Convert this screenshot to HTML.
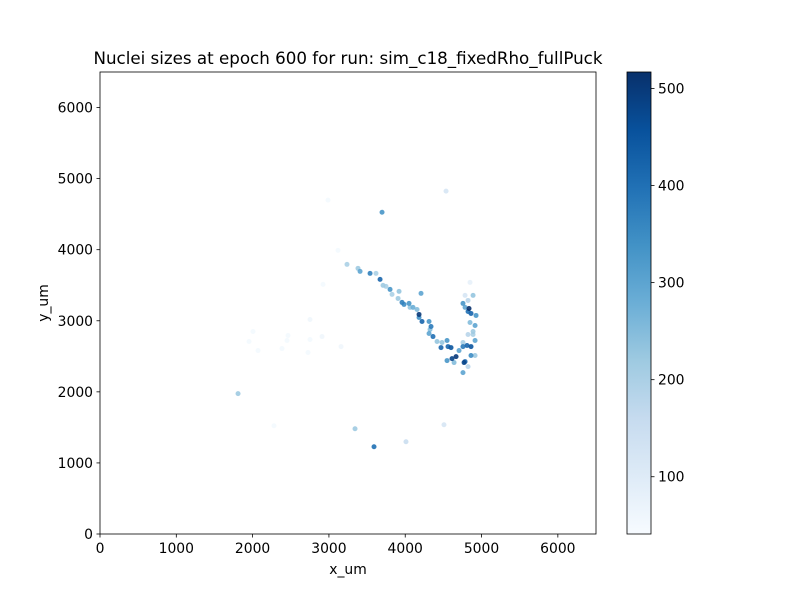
<!DOCTYPE html>
<html><head><meta charset="utf-8"><style>
body{margin:0;background:#fff;font-family:"Liberation Sans","DejaVu Sans",sans-serif}
svg text{font-family:"DejaVu Sans","Liberation Sans",sans-serif;fill:#000}
</style></head><body>
<svg id="chart" width="800" height="600" xmlns="http://www.w3.org/2000/svg">
<defs><linearGradient id="cb" x1="0" y1="1" x2="0" y2="0">
<stop offset="0" stop-color="#f7fbff"/><stop offset="0.125" stop-color="#deebf7"/><stop offset="0.25" stop-color="#c6dbef"/><stop offset="0.375" stop-color="#9ecae1"/><stop offset="0.5" stop-color="#6baed6"/><stop offset="0.625" stop-color="#4292c6"/><stop offset="0.75" stop-color="#2171b5"/><stop offset="0.875" stop-color="#08519c"/><stop offset="1" stop-color="#08306b"/>
</linearGradient></defs>
<text x="348" y="64" text-anchor="middle" font-size="16.7">Nuclei sizes at epoch 600 for run: sim_c18_fixedRho_fullPuck</text>
<g id="points"></g>
<rect x="100" y="72" width="496" height="462" fill="none" stroke="#000" stroke-width="0.8"/>
<g id="axes"></g>
<text x="348" y="574" text-anchor="middle" font-size="13.9">x_um</text>
<text x="0" y="0" transform="translate(48,303) rotate(-90)" text-anchor="middle" font-size="13.9">y_um</text>
<rect x="627" y="72" width="24" height="462" fill="url(#cb)" stroke="#000" stroke-width="0.8"/>
<g id="cbticks"></g>
</svg>
<script>
const xs=[4535,3696,2988,3119,3237,3381,3408,3539,3617,3670,3709,3748,3801,3827,3919,3906,3958,3984,4050,4063,4102,4155,4207,4181,4181,4220,4312,4338,4325,4312,4364,4417,4482,4548,4469,4561,4600,4548,4613,4666,4640,4705,4757,4810,4862,4915,4784,4771,4757,4862,4915,4823,4757,4889,4849,4915,4889,4823,4928,4862,4836,4823,4784,4757,4823,4784,4889,4849,2005,1953,2071,2385,2464,2451,2752,2752,2726,2910,3159,2923,2280,4508,4010,1809,3342,3591];
const ys=[4824,4527,4697,3991,3794,3738,3695,3667,3667,3582,3498,3484,3441,3371,3413,3314,3258,3230,3244,3188,3188,3159,3385,3089,3046,2990,2990,2920,2877,2821,2778,2708,2694,2722,2623,2637,2623,2440,2468,2496,2412,2581,2637,2652,2637,2722,2426,2412,2271,2511,2511,2355,2694,2807,2976,2934,2849,2807,3075,3103,3173,3131,3188,3244,3286,3357,3357,3540,2849,2708,2581,2609,2793,2722,3018,2736,2553,2778,2637,3512,1523,1537,1298,1975,1481,1227];
const sizes=[120,330,50,50,200,220,300,370,200,420,220,200,330,200,230,220,370,350,330,230,280,250,300,500,340,420,330,380,250,300,400,230,230,330,420,420,450,330,480,500,250,300,380,420,450,300,420,480,300,350,220,180,200,200,250,300,220,180,330,420,520,400,300,330,180,120,230,80,50,50,50,50,50,50,60,50,50,60,60,50,50,120,150,220,220,400];
const xTicks=[0,1000,2000,3000,4000,5000,6000];
const yTicks=[0,1000,2000,3000,4000,5000,6000];
const cTicks=[100,200,300,400,500];
const X=v=>100+v*496/6500, Y=v=>534-v*462/6500;
const CMIN=41,CMAX=517, C=v=>534-(v-CMIN)*462/(CMAX-CMIN);
const stops=[[247,251,255],[222,235,247],[198,219,239],[158,202,225],[107,174,214],[66,146,198],[33,113,181],[8,81,156],[8,48,107]];
function col(v){let t=Math.max(0,Math.min(1,(v-CMIN)/(CMAX-CMIN)))*8;let i=Math.min(7,Math.floor(t)),f=t-i;const a=stops[i],b=stops[i+1];return 'rgb('+a.map((c,k)=>Math.round(c+(b[k]-c)*f)).join(',')+')';}
const NS='http://www.w3.org/2000/svg';
function mk(tag,attrs,parent){const e=document.createElementNS(NS,tag);for(const k in attrs)e.setAttribute(k,attrs[k]);parent.appendChild(e);return e;}
const pg=document.getElementById('points');
const order=xs.map((_,i)=>i).sort((a,b)=>sizes[a]-sizes[b]);
for(const i of order){const c=mk('circle',{cx:X(xs[i]),cy:Y(ys[i]),r:2.5,fill:col(sizes[i]),'fill-opacity':0.9},pg);

}
const ax=document.getElementById('axes');
xTicks.forEach(t=>{mk('line',{x1:X(t),x2:X(t),y1:534,y2:537.5,stroke:'#000','stroke-width':0.8},ax);
const tx=mk('text',{x:X(t),y:553,'text-anchor':'middle','font-size':13.9},ax);tx.textContent=t;

});
yTicks.forEach(t=>{mk('line',{x1:96.5,x2:100,y1:Y(t),y2:Y(t),stroke:'#000','stroke-width':0.8},ax);
const tx=mk('text',{x:93,y:Y(t)+5,'text-anchor':'end','font-size':13.9},ax);tx.textContent=t;

});
const cg=document.getElementById('cbticks');
cTicks.forEach(t=>{mk('line',{x1:651,x2:654.5,y1:C(t),y2:C(t),stroke:'#000','stroke-width':0.8},cg);
const tx=mk('text',{x:658,y:C(t)+5,'font-size':13.9},cg);tx.textContent=t;

});
</script>
</body></html>
